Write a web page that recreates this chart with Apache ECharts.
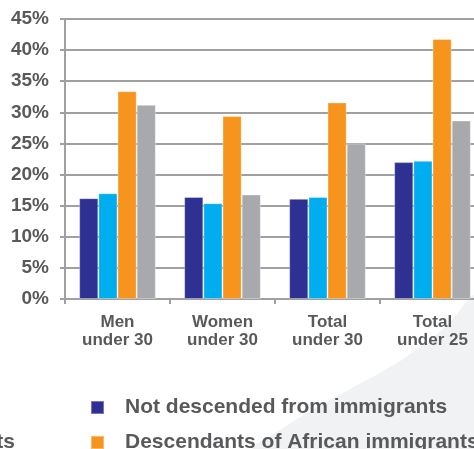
<!DOCTYPE html>
<html>
<head>
<meta charset="utf-8">
<script src="https://cdn.jsdelivr.net/npm/echarts@6/dist/echarts.min.js"></script>
<style>html,body{margin:0;padding:0;background:#fff}#c{width:474px;height:449px}</style>
</head>
<body>
<div id="c"></div>
<script>
var categories = ['Men\nunder 30', 'Women\nunder 30', 'Total\nunder 30', 'Total\nunder 25'];
var seriesNames = ['Not descended from immigrants', 'Descendants of Southern European immigrants', 'Descendants of African immigrants', 'Immigrants'];
var notDescended = [16.2, 16.4, 16.1, 22.0];
var southernEuropean = [17.0, 15.4, 16.4, 22.2];
var african = [33.4, 29.4, 31.6, 41.8];
var immigrants = [31.2, 16.8, 25.0, 28.7];
var yTicks = [0, 5, 10, 15, 20, 25, 30, 35, 40, 45];

var colors = ['#2E3192', '#00AEEF', '#F7941D', '#A7A9AC'];
var txt = '#58595B';
var font = 'Arial, "Liberation Sans", sans-serif';
var values = [notDescended, southernEuropean, african, immigrants];

function legendItem(name, pos) {
  var base = {
    orient: 'horizontal', padding: 0,
    itemWidth: 13, itemHeight: 13, icon: 'rect',
    data: [name],
    textStyle: { color: txt, fontFamily: font, fontWeight: 'bold', fontSize: 21, lineHeight: 18, padding: [0, 0, 0, 16] }
  };
  for (var k in pos) base[k] = pos[k];
  return base;
}

var chart = echarts.init(document.getElementById('c'));
chart.setOption({
  animation: false,
  backgroundColor: '#ffffff',
  graphic: [{
    type: 'polygon', z: -10, silent: true,
    shape: { points: [[474,296],[458,313],[443,329],[420,347],[397,363],[352,388],[307,413],[280,430],[254,449],[474,449]], smooth: 0.3 },
    style: { fill: '#F1F2F4' }
  }],
  grid: { left: 65, width: 420, top: 19, height: 280, outerBoundsMode: 'none', containLabel: false },
  xAxis: {
    type: 'category', data: categories,
    axisLine: { lineStyle: { color: '#A0A0A0', width: 2 } },
    axisTick: { show: true, length: 5, lineStyle: { color: '#A0A0A0', width: 2 } },
    axisLabel: { color: txt, fontFamily: font, fontWeight: 'bold', fontSize: 17, lineHeight: 18, margin: 14 }
  },
  yAxis: {
    type: 'value', min: yTicks[0], max: yTicks[yTicks.length - 1], interval: 5,
    axisLine: { show: true, lineStyle: { color: '#A0A0A0', width: 2 } },
    axisTick: { show: true, length: 5, lineStyle: { color: '#A0A0A0', width: 2 } },
    splitLine: { lineStyle: { color: '#A0A0A0', width: 2 } },
    axisLabel: { formatter: '{value}%', color: txt, fontFamily: font, fontWeight: 'bold', fontSize: 19, margin: 16 }
  },
  legend: [
    legendItem(seriesNames[0], { left: 90, top: 397 }),
    legendItem(seriesNames[2], { left: 90, top: 432 }),
    legendItem(seriesNames[3], { right: 520, top: 397 }),
    legendItem(seriesNames[1], { right: 459, top: 432 })
  ],
  series: values.map(function (v, i) {
    return {
      name: seriesNames[i], type: 'bar', data: v,
      barGap: '0%', barCategoryGap: '27%',
      itemStyle: { color: colors[i], borderColor: 'rgba(255,255,255,0.35)', borderWidth: 1 }
    };
  })
});
</script>
</body>
</html>
